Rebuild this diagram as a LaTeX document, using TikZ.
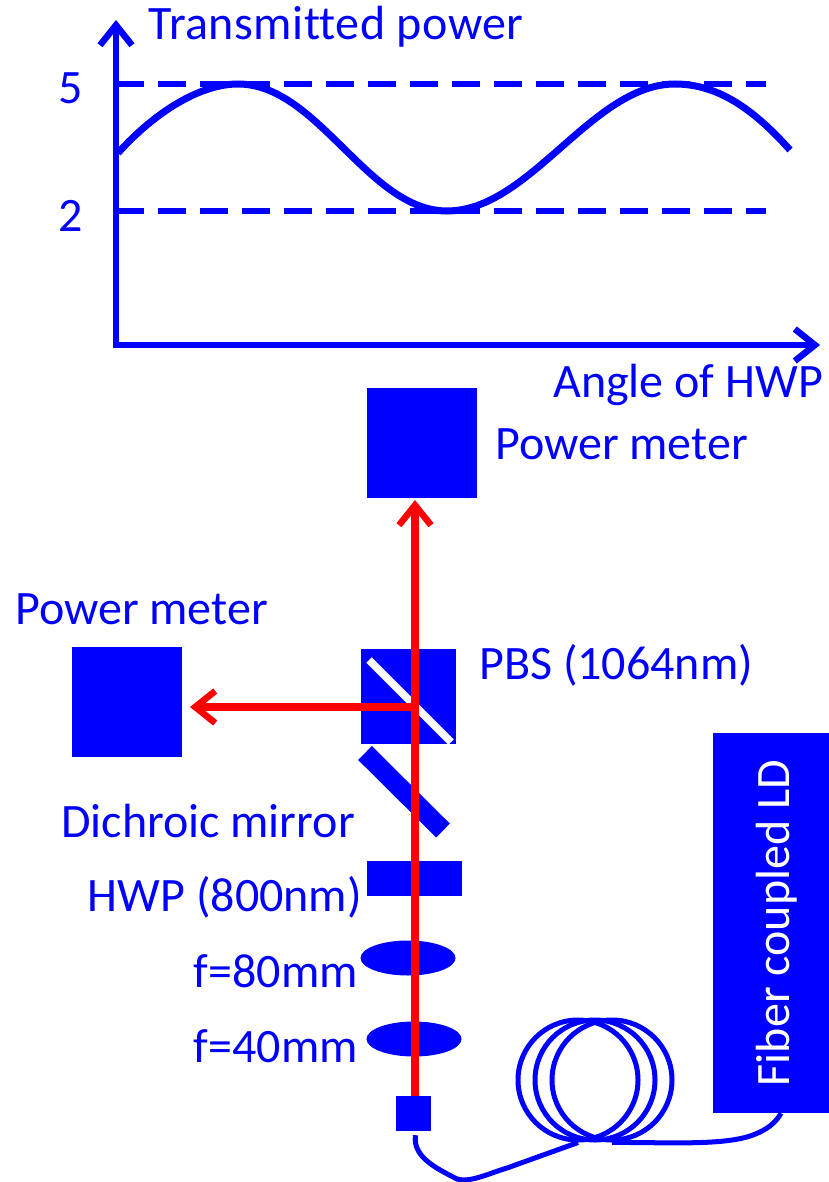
\documentclass[tikz,border=0pt]{standalone}
\usepackage{fontspec}
\setmainfont[Ligatures=NoCommon]{Carlito}
\usetikzlibrary{arrows.meta,shapes.geometric}
\definecolor{bl}{RGB}{0,0,255}
\definecolor{rd}{RGB}{255,0,0}
\tikzset{x=1pt,y=-1pt,
 lab/.style={text=bl,font=\fontsize{48}{52}\selectfont,inner sep=0pt},
 box/.style={fill=bl,draw=none,inner sep=0pt},
 axis/.style={draw=bl,line width=6.5pt,-{Straight Barb[length=20pt,width=32pt,line width=6.5pt]}},
 beam/.style={draw=rd,line width=7.5pt},
 beamarrow/.style={beam,-{Straight Barb[length=20pt,width=32pt,line width=6.5pt]}},
 dashline/.style={draw=bl,line width=6.5pt,dash pattern=on 28pt off 14pt},
 curve/.style={draw=bl,line width=7pt},
 fiber/.style={draw=bl,line width=5pt}}
\begin{document}
\begin{tikzpicture}
\useasboundingbox (0,0) rectangle (829,1182);
\coordinate (o) at (116,345);
\coordinate (yt) at (116,20);
\coordinate (xt) at (820,345);
\draw[axis] (113,345) -- (xt);
\draw[axis] (o) -- (yt);
\coordinate (d1a) at (116,84); \coordinate (d1b) at (766,84);
\coordinate (d2a) at (116,211); \coordinate (d2b) at (766,211);
\draw[dashline] (d1a) -- (d1b);
\draw[dashline] (d2a) -- (d2b);
\coordinate (c0) at (118,153); \coordinate (p1) at (238,84); \coordinate (m1) at (447,211); \coordinate (p2) at (675,84); \coordinate (c4) at (790,150);
\draw[curve] (c0) .. controls (155,112) and (200,84) .. (p1) .. controls (318,84) and (368,211) .. (m1) .. controls (530,211) and (592,84) .. (p2) .. controls (720,84) and (756,112) .. (c4);
\node[lab,anchor=west] (tp) at (148,27) {\addfontfeatures{LetterSpace=1.0}Transmitted power};
\node[lab] (five) at (71,88) {5};
\node[lab] (two) at (71,216) {2};
\node[lab,anchor=east] (ang) at (823,385) {Angle of HWP};
\node[box,minimum width=110pt,minimum height=110pt] (pm1) at (422,443) {};
\node[lab,anchor=west] (pm1l) at (495,444) {Power meter};
\node[box,minimum width=110pt,minimum height=110pt] (pm2) at (127,702) {};
\node[lab,anchor=west] (pm2l) at (15,609) {Power meter};
\node[box,minimum width=95pt,minimum height=95pt] (pbs) at (408,696.5) {};
\coordinate (ps1) at (369,660); \coordinate (ps2) at (451,742);
\draw[white,line width=7.5pt] (ps1) -- (ps2);
\node[lab,anchor=west] (pbsl) at (479,665) {PBS (1064nm)};
\coordinate (dm1) at (365,753); \coordinate (dm2) at (443,830.5);
\draw[bl,line width=19.5pt] (dm1) -- (dm2);
\node[lab,anchor=east] (dml) at (355,821) {Dichroic mirror};
\node[box,minimum width=95pt,minimum height=35pt] (hwp) at (414,878) {};
\node[lab,anchor=east] (hwpl) at (362,897) {HWP (800nm)};
\node[box,shape=ellipse,minimum width=95pt,minimum height=35pt] (l1) at (408,958) {};
\node[lab,anchor=east] (l1l) at (358,971) {f=80mm};
\node[box,shape=ellipse,minimum width=95pt,minimum height=35pt] (l2) at (414,1039) {};
\node[lab,anchor=east] (l2l) at (358,1046) {f=40mm};
\node[box,minimum width=35pt,minimum height=35pt] (col) at (413.5,1113.5) {};
\node[box,minimum width=117pt,minimum height=380pt] (ld) at (771,923) {};
\node[lab,text=white,rotate=90] (ldl) at (777,923) {Fiber coupled LD};
\coordinate (bt) at (415,500);
\draw[beamarrow] (bt |- col.north) -- (bt);
\coordinate (bs) at (415,707);
\coordinate (bl) at (190,707);
\draw[beamarrow] (bs) -- (bl);
\node[draw=bl,line width=5pt,circle,minimum size=120pt,inner sep=0pt] (c1) at (578,1080) {};
\node[draw=bl,line width=5pt,circle,minimum size=120pt,inner sep=0pt] (c2) at (595,1080) {};
\node[draw=bl,line width=5pt,circle,minimum size=120pt,inner sep=0pt] (c3) at (612,1080) {};
\draw[fiber] (col.south) ++(2,4) .. controls (412,1158) and (440,1170) .. (457,1179) .. controls (470,1183) and (490,1173) .. (507,1168) -- (c1.south);
\draw[fiber] (c3.south) .. controls (660,1142) and (720,1146) .. (750,1136) .. controls (768,1130) and (776,1122) .. (ld.south -| 781,0);
\end{tikzpicture}
\end{document}
